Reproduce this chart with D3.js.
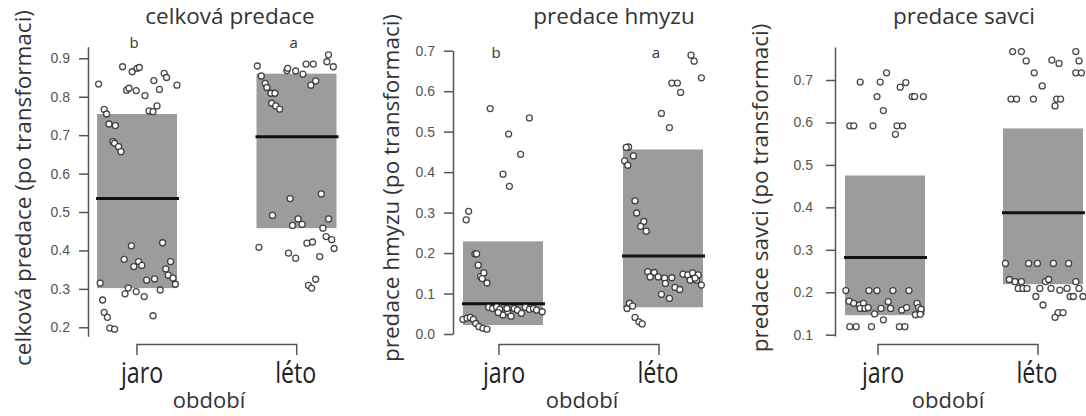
<!DOCTYPE html>
<html>
<head>
<meta charset="utf-8">
<script src="https://cdn.jsdelivr.net/npm/d3@7"></script>
<style>
  body { margin: 0; background: #fff; }
  svg { display: block; }
</style>
</head>
<body>
<svg id="chart" width="1086" height="416"></svg>
<script>
// ---- data ----
const groups = ["jaro", "léto"];
const titles = ["celková predace", "predace hmyzu", "predace savci"];
const yLabels = ["celková predace (po transformaci)", "predace hmyzu (po transformaci)", "predace savci (po transformaci)"];
const xLabel = "období";

const ticksCelk = [0.2, 0.3, 0.4, 0.5, 0.6, 0.7, 0.8, 0.9];
const ticksHmyz = [0.0, 0.1, 0.2, 0.3, 0.4, 0.5, 0.6, 0.7];
const ticksSavci = [0.1, 0.2, 0.3, 0.4, 0.5, 0.6, 0.7];

// bar = [low, high, mean] per group
const barsCelk = [[0.302, 0.755, 0.535], [0.458, 0.860, 0.696]];
const barsHmyz = [[0.022, 0.229, 0.075], [0.066, 0.456, 0.193]];
const barsSavci = [[0.146, 0.475, 0.282], [0.219, 0.586, 0.387]];

const lettersCelk = ["b", "a"];
const lettersHmyz = ["b", "a"];
const lettersSavci = ["", ""];

// points: [jitter (bar widths from group centre), value]
const ptsCelkJaro = [
  [-0.48, 0.833], [-0.18, 0.878], [-0.06, 0.865], [0.0, 0.874], [0.03, 0.876], [-0.13, 0.817],
  [-0.10, 0.822], [-0.01, 0.816], [0.10, 0.803], [0.21, 0.842], [0.28, 0.819], [0.34, 0.861],
  [0.37, 0.85], [0.50, 0.83], [-0.41, 0.767], [-0.38, 0.755], [-0.35, 0.729], [-0.27, 0.725],
  [-0.30, 0.683], [-0.28, 0.679], [-0.23, 0.67], [-0.20, 0.657], [0.15, 0.763], [0.20, 0.761],
  [0.25, 0.776],
  [-0.46, 0.315], [-0.43, 0.271], [-0.41, 0.239], [-0.37, 0.226], [-0.34, 0.198], [-0.28, 0.195],
  [-0.16, 0.377], [-0.07, 0.412], [-0.04, 0.358], [0.02, 0.371], [0.06, 0.361], [-0.11, 0.302],
  [-0.15, 0.287], [-0.01, 0.293], [0.09, 0.28], [0.12, 0.323], [0.22, 0.326], [0.20, 0.23],
  [0.29, 0.297], [0.32, 0.42], [0.36, 0.352], [0.39, 0.336], [0.42, 0.371], [0.45, 0.328],
  [0.48, 0.312]
];
const ptsCelkLeto = [
  [-0.49, 0.88], [-0.44, 0.854], [-0.39, 0.835], [-0.37, 0.824], [-0.32, 0.809], [-0.27, 0.809],
  [-0.31, 0.783], [-0.26, 0.776], [-0.21, 0.768], [-0.12, 0.868], [-0.11, 0.874], [-0.01, 0.867],
  [0.08, 0.859], [0.12, 0.885], [0.21, 0.885], [0.18, 0.83], [0.24, 0.841], [0.40, 0.909],
  [0.38, 0.891], [0.46, 0.878], [-0.08, 0.535], [0.31, 0.547],
  [-0.30, 0.491], [-0.05, 0.465], [0.02, 0.482], [0.07, 0.468], [0.40, 0.482], [0.33, 0.458],
  [-0.47, 0.408], [-0.10, 0.393], [-0.01, 0.38], [0.13, 0.419], [0.20, 0.422], [0.29, 0.384],
  [0.37, 0.436], [0.44, 0.428], [0.47, 0.405], [0.15, 0.309], [0.19, 0.302], [0.24, 0.325]
];
const ptsHmyzJaro = [
  [-0.16, 0.557], [0.07, 0.494], [0.33, 0.534], [0.22, 0.444], [0.0, 0.395], [0.08, 0.365],
  [-0.46, 0.282], [-0.43, 0.303], [-0.35, 0.198], [-0.33, 0.198], [-0.31, 0.17], [-0.28, 0.142],
  [-0.24, 0.151], [-0.20, 0.126], [-0.26, 0.137],
  [-0.50, 0.036], [-0.45, 0.039], [-0.41, 0.041], [-0.37, 0.036], [-0.34, 0.026], [-0.30, 0.018],
  [-0.25, 0.014], [-0.20, 0.012], [-0.18, 0.066], [-0.13, 0.063], [-0.08, 0.067], [-0.04, 0.061],
  [0.0, 0.047], [0.06, 0.055], [0.10, 0.044], [0.14, 0.063], [0.18, 0.059], [0.23, 0.051],
  [0.28, 0.066], [0.33, 0.061], [0.38, 0.063], [0.42, 0.059], [0.49, 0.055], [0.05, 0.063],
  [-0.06, 0.053]
];
const ptsHmyzLeto = [
  [0.35, 0.689], [0.39, 0.674], [0.48, 0.633], [0.11, 0.62], [0.18, 0.62], [0.22, 0.597],
  [-0.02, 0.545], [0.08, 0.51], [-0.43, 0.462], [-0.46, 0.461], [-0.37, 0.44], [-0.48, 0.428],
  [-0.44, 0.417], [-0.35, 0.329], [-0.33, 0.299], [-0.24, 0.278], [-0.28, 0.266], [-0.21, 0.254],
  [-0.45, 0.063], [-0.42, 0.076], [-0.38, 0.069], [-0.35, 0.041], [-0.30, 0.03], [-0.26, 0.025],
  [-0.19, 0.154], [-0.11, 0.152], [-0.16, 0.141], [-0.06, 0.141], [0.02, 0.138], [0.11, 0.139],
  [0.03, 0.125], [0.15, 0.115], [0.21, 0.11], [-0.02, 0.098], [0.08, 0.088], [0.25, 0.148],
  [0.31, 0.146], [0.37, 0.151], [0.34, 0.133], [0.42, 0.133], [0.44, 0.146], [0.48, 0.121],
  [0.40, 0.138]
];
const ptsSavciJaro = [
  [-0.31, 0.695], [-0.06, 0.695], [0.02, 0.717], [-0.10, 0.661], [0.19, 0.683], [0.26, 0.694],
  [0.34, 0.661], [0.37, 0.661], [0.48, 0.661], [-0.02, 0.628], [-0.44, 0.592], [-0.39, 0.592],
  [-0.15, 0.592], [0.15, 0.592], [0.22, 0.592], [0.13, 0.572],
  [-0.49, 0.204], [-0.20, 0.204], [-0.10, 0.204], [0.10, 0.204], [0.30, 0.204], [-0.45, 0.179],
  [-0.39, 0.174], [-0.32, 0.17], [-0.27, 0.174], [-0.31, 0.162], [-0.25, 0.162], [-0.21, 0.164],
  [-0.13, 0.149], [-0.05, 0.162], [-0.02, 0.135], [0.04, 0.178], [0.07, 0.162], [0.21, 0.158],
  [0.27, 0.164], [0.40, 0.174], [0.42, 0.164], [0.45, 0.16], [0.38, 0.147], [0.44, 0.148],
  [-0.44, 0.119], [-0.36, 0.119], [-0.17, 0.119], [0.18, 0.119], [0.25, 0.119]
];
const ptsSavciLeto = [
  [-0.38, 0.767], [-0.27, 0.767], [-0.21, 0.745], [-0.11, 0.717], [-0.01, 0.686], [0.11, 0.747],
  [0.20, 0.739], [0.41, 0.767], [0.45, 0.745], [0.41, 0.717], [0.48, 0.717], [-0.40, 0.655],
  [-0.33, 0.655], [-0.12, 0.655], [0.17, 0.655], [0.22, 0.655], [0.15, 0.639],
  [-0.47, 0.268], [-0.18, 0.268], [-0.07, 0.268], [0.13, 0.268], [0.32, 0.268], [-0.42, 0.23],
  [-0.35, 0.225], [-0.27, 0.225], [-0.31, 0.209], [-0.25, 0.209], [-0.20, 0.209], [0.03, 0.225],
  [0.07, 0.23], [-0.04, 0.209], [0.10, 0.209], [0.21, 0.205], [0.30, 0.209], [0.41, 0.225],
  [0.45, 0.209], [0.34, 0.19], [0.38, 0.19], [0.50, 0.19], [-0.09, 0.19], [0.0, 0.17],
  [0.19, 0.152], [0.25, 0.152], [0.15, 0.141]
];

// ---- layout ----
const panels = [
  {
    title: titles[0], ylab: yLabels[0], ticks: ticksCelk, bars: barsCelk, letters: lettersCelk,
    pts: [ptsCelkJaro, ptsCelkLeto],
    axisX: 88, tickPx: [327.3, 58.3], axisExt: [0.177, 0.93],
    barC: [137, 296.5], brC: [137, 296.7], titleX: 230, letterY: 48,
    ylabX: 31, xlabX: 209, tickPad: 9
  },
  {
    title: titles[1], ylab: yLabels[1], ticks: ticksHmyz, bars: barsHmyz, letters: lettersHmyz,
    pts: [ptsHmyzJaro, ptsHmyzLeto],
    axisX: 453, tickPx: [334, 50.7], axisExt: [0.0, 0.7],
    barC: [503, 663], brC: [499, 659], titleX: 614, letterY: 58,
    ylabX: 399, xlabX: 582, tickPad: 9
  },
  {
    title: titles[2], ylab: yLabels[2], ticks: ticksSavci, bars: barsSavci, letters: lettersSavci,
    pts: [ptsSavciJaro, ptsSavciLeto],
    axisX: 835, tickPx: [334.7, 80], axisExt: [0.097, 0.778],
    barC: [885, 1043], brC: [878, 1038], titleX: 964, letterY: 58,
    ylabX: 768, xlabX: 948, tickPad: 13
  }
];

const BAR_W = 80;
const BRACKET_Y = 344.5;
const BRACKET_TICK = 10.5;
const TEXT_FONT = "'Open Sans', 'Noto Sans', sans-serif";
const NUM_FONT = "'Liberation Sans', Arial, sans-serif";

const svg = d3.select('#chart');

panels.forEach(function (p) {
  const g = svg.append('g');
  const t = p.ticks;

  const y = d3.scaleLinear()
    .domain([t[0], t[t.length - 1]])
    .range(p.tickPx);
  const yAxisScale = d3.scaleLinear()
    .domain(p.axisExt)
    .range([y(p.axisExt[0]), y(p.axisExt[1])]);

  const xBar = d3.scaleLinear().domain([0, 1]).range(p.barC);
  const xBr = d3.scaleLinear().domain([0, 1]).range(p.brC);
  const jit = d3.scaleLinear().domain([-0.5, 0.5]).range([-BAR_W / 2, BAR_W / 2]);

  // bars
  g.selectAll('rect.bar')
    .data(p.bars)
    .join('rect')
    .attr('class', 'bar')
    .attr('x', (d, i) => xBar(i) - BAR_W / 2)
    .attr('width', BAR_W)
    .attr('y', d => y(d[1]))
    .attr('height', d => y(d[0]) - y(d[1]))
    .attr('fill', '#9c9c9c');

  // mean lines
  g.selectAll('line.mean')
    .data(p.bars)
    .join('line')
    .attr('class', 'mean')
    .attr('x1', (d, i) => xBar(i) - BAR_W / 2 - 1)
    .attr('x2', (d, i) => xBar(i) + BAR_W / 2 + 2)
    .attr('y1', d => y(d[2]))
    .attr('y2', d => y(d[2]))
    .attr('stroke', '#111')
    .attr('stroke-width', 3);

  // points
  p.pts.forEach(function (arr, gi) {
    g.selectAll('circle.pt' + gi)
      .data(arr)
      .join('circle')
      .attr('class', 'pt' + gi)
      .attr('cx', d => xBar(gi) + jit(d[0]))
      .attr('cy', d => y(d[1]))
      .attr('r', 3)
      .attr('fill', '#fff')
      .attr('stroke', '#2a2a2a')
      .attr('stroke-opacity', 0.85)
      .attr('stroke-width', 1.3);
  });

  // y axis
  const axis = d3.axisLeft(yAxisScale)
    .tickValues(t)
    .tickSizeInner(9)
    .tickSizeOuter(0)
    .tickPadding(p.tickPad)
    .tickFormat(d3.format('.1f'));
  const ag = g.append('g')
    .attr('transform', 'translate(' + p.axisX + ',0)')
    .call(axis);
  ag.select('.domain').attr('stroke', '#555').attr('stroke-width', 1.5);
  ag.selectAll('.tick line').attr('stroke', '#555').attr('stroke-width', 1.5);
  ag.selectAll('.tick text')
    .attr('fill', '#555')
    .style('font-family', NUM_FONT)
    .style('font-size', '14px');

  // x bracket
  const br = d3.path();
  br.moveTo(xBr(0), BRACKET_Y + BRACKET_TICK);
  br.lineTo(xBr(0), BRACKET_Y);
  br.lineTo(xBr(1), BRACKET_Y);
  br.lineTo(xBr(1), BRACKET_Y + BRACKET_TICK);
  g.append('path')
    .attr('d', br.toString())
    .attr('fill', 'none')
    .attr('stroke', '#555')
    .attr('stroke-width', 1.5);

  // group labels (tall, narrow)
  g.selectAll('text.grp')
    .data(groups)
    .join('text')
    .attr('class', 'grp')
    .attr('transform', (d, i) => 'translate(' + (xBr(i) + (i === 0 ? 5 : -1)) + ',383) scale(0.8,1)')
    .attr('text-anchor', 'middle')
    .attr('fill', '#222')
    .style('font-family', TEXT_FONT)
    .style('font-size', '29px')
    .text(d => d);

  // significance letters
  g.selectAll('text.let')
    .data(p.letters)
    .join('text')
    .attr('class', 'let')
    .attr('x', (d, i) => xBr(i) - 3)
    .attr('y', p.letterY)
    .attr('text-anchor', 'middle')
    .attr('fill', '#333')
    .style('font-family', TEXT_FONT)
    .style('font-size', '15px')
    .text(d => d);

  // title
  g.append('text')
    .attr('x', p.titleX)
    .attr('y', 24)
    .attr('text-anchor', 'middle')
    .attr('fill', '#333')
    .style('font-family', TEXT_FONT)
    .style('font-size', '22.5px')
    .text(p.title);

  // x label
  g.append('text')
    .attr('x', p.xlabX)
    .attr('y', 408)
    .attr('text-anchor', 'middle')
    .attr('fill', '#333')
    .style('font-family', TEXT_FONT)
    .style('font-size', '22px')
    .text(xLabel);

  // y label
  g.append('text')
    .attr('transform', 'translate(' + p.ylabX + ',188) rotate(-90)')
    .attr('text-anchor', 'middle')
    .attr('fill', '#333')
    .style('font-family', TEXT_FONT)
    .style('font-size', '22.5px')
    .text(p.ylab);
});
</script>
</body>
</html>
